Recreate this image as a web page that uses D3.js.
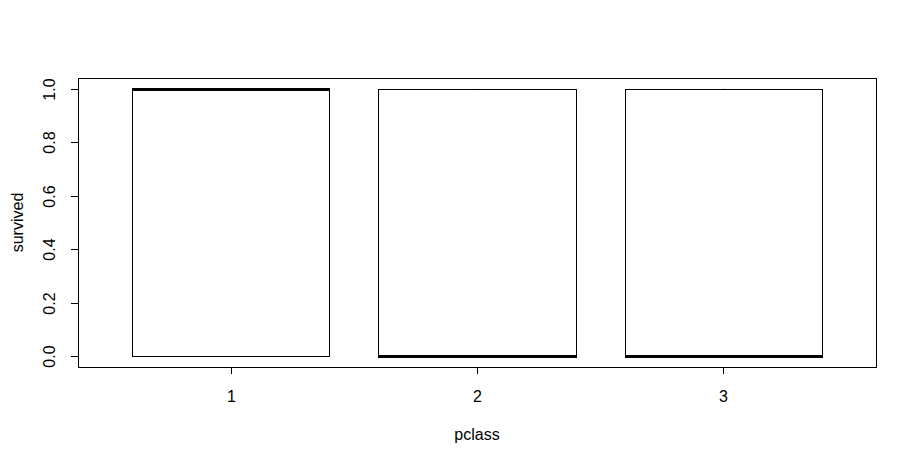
<!DOCTYPE html>
<html><head><meta charset="utf-8">
<script src="https://cdn.jsdelivr.net/npm/d3@7"></script>
<style>body{margin:0;background:#fff}svg{display:block}text{font-family:"Liberation Sans",Arial,sans-serif;font-size:16px;fill:#000}</style>
</head><body><svg id="c" width="917" height="465"></svg>
<script>
const categories = ["1", "2", "3"];
const lowerWhisker = [0, 0, 0];
const q1 = [0, 0, 0];
const median = [1, 0, 0];
const q3 = [1, 1, 1];
const upperWhisker = [1, 1, 1];
const yTicks = [0.0, 0.2, 0.4, 0.6, 0.8, 1.0];
const xLabel = "pclass";
const yLabel = "survived";

const svg = d3.select("#c");
const L = 78, R = 876, T = 78, B = 367;
const x = d3.scaleLinear().domain([0.38, 3.62]).range([L, R]);
const y = d3.scaleLinear().domain([-0.04, 1.04]).range([B, T]);
const bw = 0.8;

const g = svg.append("g");
categories.forEach((c, i) => {
  const cx = i + 1;
  const x0 = x(cx - bw/2), x1 = x(cx + bw/2);
  g.append("rect").attr("x", Math.round(x0)+0.5).attr("y", Math.round(y(q3[i]))+0.5)
    .attr("width", Math.round(x1)-Math.round(x0)).attr("height", Math.round(y(q1[i]))-Math.round(y(q3[i])))
    .attr("fill", "none").attr("stroke", "#000").attr("stroke-width", 1);
  g.append("line").attr("x1", Math.round(x0)).attr("x2", Math.round(x1)+1)
    .attr("y1", Math.round(y(median[i]))+0.5).attr("y2", Math.round(y(median[i]))+0.5)
    .attr("stroke", "#000").attr("stroke-width", 3);
  // whiskers (zero length here)
  g.append("line").attr("x1", x(cx)).attr("x2", x(cx)).attr("y1", y(q3[i])).attr("y2", y(upperWhisker[i])).attr("stroke","#000").attr("stroke-dasharray","4,4");
  g.append("line").attr("x1", x(cx)).attr("x2", x(cx)).attr("y1", y(q1[i])).attr("y2", y(lowerWhisker[i])).attr("stroke","#000").attr("stroke-dasharray","4,4");
});

svg.append("rect").attr("x", L+0.5).attr("y", T+0.5).attr("width", R-L).attr("height", B-T)
  .attr("fill","none").attr("stroke","#000");

// y axis
const ya = svg.append("g");
yTicks.forEach(t => {
  const yy = Math.round(y(t)) + 0.5;
  ya.append("line").attr("x1", L-7).attr("x2", L).attr("y1", yy).attr("y2", yy).attr("stroke","#000");
  ya.append("text").attr("transform", `translate(${L-29},${yy}) rotate(-90)`)
    .attr("text-anchor","middle").attr("dy","0.35em").text(t.toFixed(1));
});
svg.append("text").attr("transform", `translate(17,${(T+B)/2}) rotate(-90)`)
  .attr("text-anchor","middle").attr("dy","0.35em").text(yLabel);

// x axis
categories.forEach((c, i) => {
  const xx = Math.round(x(i+1)) + 0.5;
  svg.append("line").attr("x1", xx).attr("x2", xx).attr("y1", B).attr("y2", B+7).attr("stroke","#000");
  svg.append("text").attr("x", xx).attr("y", 396).attr("text-anchor","middle").attr("dy","0.35em").text(c);
});
svg.append("text").attr("x", (L+R)/2).attr("y", 434).attr("text-anchor","middle").attr("dy","0.35em").text(xLabel);
</script></body></html>
